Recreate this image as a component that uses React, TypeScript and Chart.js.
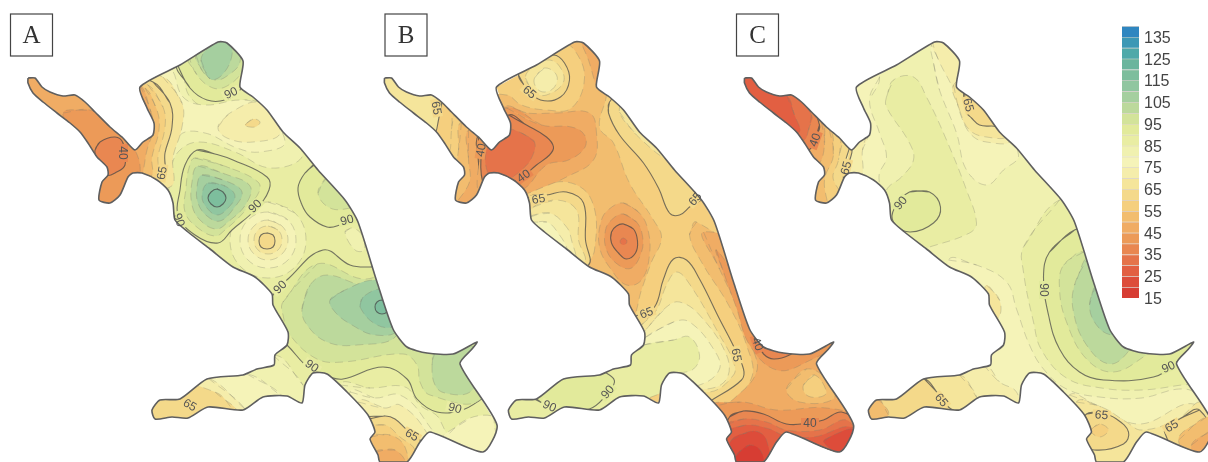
import React, { useEffect, useRef } from "react";
import { Chart, registerables } from "chart.js";

Chart.register(...registerables);

type Pt = [number, number];
type Band = [number, number, Pt[]]; // [legend class, solid contour?, contour]
type Lab = [string, number, number, number, number]; // text, x, y, angle, class behind

const legendClasses = [135,130,125,120,115,110,105,100,95,90,85,80,75,70,65,60,55,50,45,40,35,30,25,20,15];
const legendColors = ["#2f86c0","#3d98b5","#4fa9a9","#6ab59d","#7dbe9d","#90c6a0","#a5cf9f","#bcd99c","#d3e39a","#e2ea9b","#e9eda3","#f0f1b0","#f5f3b8","#f5edab","#f5e59b","#f4d98a","#f5cf7e","#f2bd6f","#f0ac64","#ec9a58","#e98751","#e5734a","#e25f42","#dd4c3a","#d73d33"];
const legendTicks = [135,125,115,105,95,85,75,65,55,45,35,25,15];
const panelLetters = ["A","B","C"];
const panelShift = [0, 356.5, 716.5];
const panelBase = [85, 55, 80];
const letterBoxLeft = [10.5, 385, 736.5];

const basin: Pt[] = [[28,78],[35,78],[42,87],[50,92],[63,96],[75,95],[85,102],[95,112],[110,127],[123,138],[135,150],[143,142],[153,135],[154,123],[147,108],[140,87],[180,65],[218,42],[227,43],[243,61],[240,87],[253,97],[267,110],[283,132],[300,148],[318,170],[345,200],[358,222],[377,282],[393,329],[407,347],[427,353],[453,354],[477,342],[472,349],[460,364],[497,425],[483,452],[430,432],[420,442],[407,462],[380,462],[378,455],[370,439],[375,432],[368,415],[347,392],[327,374],[313,373],[305,385],[302,403],[287,396],[263,397],[243,410],[208,407],[188,418],[172,417],[155,419],[152,410],[160,400],[180,399],[207,379],[243,375],[257,369],[274,365],[275,355],[287,345],[288,332],[273,305],[272,294],[255,277],[233,267],[210,249],[188,232],[175,220],[173,203],[168,190],[157,180],[142,173],[133,173],[128,177],[120,195],[110,203],[99,200],[102,182],[108,175],[107,167],[97,157],[88,143],[80,132],[70,123],[57,113],[43,102],[33,93],[28,83]];

const bandsA: Band[] = [
  [80,0,[[140,60],[178,64],[190,97],[215,110],[245,100],[262,105],[290,135],[302,157],[270,168],[235,152],[200,142],[180,150],[170,170],[165,195],[120,200],[100,100]]],
  [75,0,[[150,70],[170,68],[183,97],[205,105],[240,100],[258,105],[285,142],[260,152],[237,148],[205,133],[180,135],[170,165],[160,190],[120,200],[110,100]]],
  [70,0,[[218,127],[230,113],[260,103],[280,133],[253,142],[227,138]]],
  [60,0,[[245,125],[253,119],[260,122],[255,127]]],
  [80,0,[[268,202],[295,213],[306,240],[295,267],[268,278],[241,267],[230,240],[241,213]]],
  [75,0,[[268,212],[288,220],[296,240],[288,260],[268,268],[248,260],[240,240],[248,220]]],
  [70,0,[[268,220],[282,226],[288,240],[282,254],[268,260],[254,254],[248,240],[254,226]]],
  [65,0,[[268,226],[278,230],[282,240],[278,250],[268,254],[258,250],[254,240],[258,230]]],
  [60,1,[[267,233],[273,235],[275,241],[273,247],[267,249],[261,247],[259,241],[261,235]]],
  [90,1,[[197,150],[215,154],[233,160],[267,177],[269,190],[255,210],[232,230],[218,243],[195,235],[178,215],[180,190],[185,165]]],
  [95,0,[[195,158],[230,168],[258,182],[259,192],[244,212],[225,230],[215,236],[198,228],[185,212],[186,188],[189,168]]],
  [100,0,[[198,166],[225,174],[250,186],[246,204],[228,222],[216,229],[200,220],[192,205],[192,182]]],
  [105,0,[[202,175],[226,181],[242,192],[234,208],[220,221],[207,216],[198,203],[197,187]]],
  [110,0,[[208,183],[225,186],[235,196],[227,209],[217,215],[207,208],[202,196]]],
  [115,1,[[217,189],[223,192],[226,198],[223,204],[217,207],[211,204],[208,198],[211,192]]],
  [90,1,[[176,62],[190,88],[207,100],[225,100],[240,90],[250,60],[235,30],[200,35]]],
  [95,0,[[188,55],[197,75],[213,88],[227,86],[242,72],[250,50],[225,35]]],
  [100,0,[[196,55],[203,72],[215,80],[227,76],[240,62],[235,40],[215,42]]],
  [105,0,[[201,60],[210,79],[222,75],[232,55],[228,40],[212,45]]],
  [90,1,[[317,163],[305,173],[298,188],[302,205],[310,217],[327,227],[340,225],[365,215],[375,200],[345,160]]],
  [95,0,[[327,177],[318,193],[330,208],[350,208],[370,200],[350,170]]],
  [80,0,[[345,232],[352,228],[362,235],[364,250],[355,250]]],
  [90,1,[[260,320],[273,295],[288,279],[323,250],[350,265],[370,267],[397,265],[420,300],[480,340],[498,385],[480,400],[462,410],[437,412],[417,399],[407,379],[383,367],[343,379],[330,377],[310,369],[287,345]]],
  [95,0,[[283,302],[317,264],[363,279],[400,272],[498,340],[480,400],[430,395],[420,382],[417,365],[403,354],[343,362],[317,359],[290,335],[283,315]]],
  [100,0,[[302,309],[310,285],[327,275],[363,285],[385,280],[400,290],[397,335],[357,345],[327,342],[307,325]]],
  [100,0,[[435,352],[432,365],[435,385],[445,393],[470,392],[480,370],[470,345]]],
  [105,0,[[330,300],[345,290],[375,280],[395,290],[397,330],[375,335],[352,325],[335,312]]],
  [110,0,[[360,307],[363,297],[383,289],[400,300],[395,325],[377,325]]],
  [115,1,[[382,300],[387,302],[389,307],[387,312],[382,314],[377,312],[375,307],[377,302]]],
  [80,0,[[340,385],[370,388],[405,387],[420,405],[440,420],[450,470],[340,470]]],
  [75,0,[[350,392],[375,398],[400,395],[425,420],[450,470],[350,470]]],
  [70,0,[[358,402],[385,408],[400,405],[425,430],[440,470],[358,470]]],
  [75,0,[[440,442],[470,418],[498,420],[495,455],[470,460]]],
  [60,1,[[365,420],[385,416],[395,419],[407,430],[420,440],[420,470],[360,470]]],
  [55,0,[[365,428],[385,425],[400,437],[415,450],[415,470],[360,470]]],
  [50,0,[[370,437],[390,435],[405,447],[405,470],[370,470]]],
  [45,0,[[375,452],[395,450],[405,465],[375,470]]],
  [80,0,[[273,355],[303,385],[303,410],[148,430],[148,380]]],
  [75,0,[[247,374],[283,397],[283,420],[148,430],[148,370]]],
  [70,0,[[208,378],[245,409],[240,420],[148,430],[148,370]]],
  [60,0,[[215,392],[235,412],[148,430],[148,380]]],
  [65,0,[[163,77],[182,103],[182,127],[173,157],[170,187],[100,190],[100,70]]],
  [60,1,[[153,82],[170,103],[172,127],[165,153],[162,180],[100,190],[100,70]]],
  [55,0,[[148,85],[163,107],[165,127],[158,157],[157,178],[100,190],[100,70]]],
  [50,0,[[145,88],[157,110],[159,130],[152,157],[150,177],[100,190],[100,70]]],
  [45,0,[[140,85],[151,112],[153,130],[147,150],[143,172],[135,205],[90,210],[0,100],[20,60],[100,60]]],
  [40,0,[[63,113],[90,110],[115,125],[135,150],[140,175],[130,205],[90,210],[80,140]]],
  [35,1,[[95,150],[100,142],[115,137],[123,143],[125,165],[115,173],[107,175],[97,160]]],
];

const bandsB: Band[] = [
  [50,0,[[235,30],[250,90],[243,127],[257,143],[273,183],[297,220],[305,238],[295,262],[285,290],[275,320],[260,320],[225,280],[238,250],[235,200],[210,182],[170,190],[120,190],[120,100],[150,95],[165,105],[190,110],[215,108],[228,78],[218,50],[200,35]]],
  [45,0,[[225,40],[245,55],[252,70],[243,90],[232,60]]],
  [50,0,[[340,222],[333,235],[345,262],[372,305],[390,345],[395,378],[365,410],[345,420],[350,470],[500,470],[500,330],[420,280]]],
  [45,0,[[347,232],[363,269],[383,312],[395,345],[400,372],[377,399],[355,415],[350,470],[500,470],[500,330],[420,260]]],
  [40,0,[[360,250],[368,275],[380,308],[393,345],[420,370],[450,362],[480,340],[400,300]]],
  [35,1,[[402,344],[407,354],[417,359],[433,355],[445,345],[400,325]]],
  [50,0,[[430,389],[450,369],[473,382],[477,399],[443,402]]],
  [55,0,[[447,385],[458,375],[470,392],[463,397],[450,395]]],
  [40,0,[[350,408],[385,402],[420,410],[470,408],[500,420],[500,470],[345,470]]],
  [35,1,[[373,417],[387,411],[407,414],[430,424],[453,423],[467,420],[485,412],[500,425],[498,470],[355,470]]],
  [30,0,[[370,425],[387,419],[410,422],[430,430],[463,430],[490,420],[500,440],[498,470],[355,470]]],
  [25,0,[[370,432],[390,425],[413,429],[427,435],[457,437],[495,427],[500,450],[498,470],[355,470]]],
  [20,0,[[375,440],[397,431],[410,440],[410,470],[370,470]]],
  [20,0,[[467,442],[477,435],[497,430],[490,455]]],
  [15,0,[[380,455],[393,445],[405,452],[405,470],[380,470]]],
  [45,0,[[267,203],[282,212],[291,228],[293,255],[285,280],[270,285],[255,270],[243,247],[245,220],[254,208]]],
  [40,0,[[267,214],[280,222],[286,236],[285,252],[275,268],[262,265],[250,250],[249,230],[256,219]]],
  [35,1,[[267,224],[277,229],[281,241],[279,253],[270,259],[262,253],[255,243],[255,232],[260,226]]],
  [30,0,[[267,238],[270,240],[270,243],[267,245],[264,243],[264,240]]],
  [60,1,[[270,320],[282,315],[298,307],[307,279],[317,259],[330,260],[343,279],[363,319],[375,342],[387,369],[385,380],[357,399],[345,405],[300,385],[270,340]]],
  [65,0,[[285,325],[300,310],[310,285],[320,272],[333,284],[363,335],[377,362],[377,375],[353,392],[300,385],[275,340]]],
  [70,0,[[290,329],[310,307],[323,302],[343,315],[370,355],[370,379],[350,389],[300,385],[280,345]]],
  [75,0,[[288,338],[317,322],[333,322],[357,349],[363,369],[343,385],[300,390],[275,355]]],
  [85,0,[[287,345],[317,340],[333,337],[343,355],[337,369],[320,375],[300,395],[148,440],[148,390],[250,360]]],
  [90,1,[[175,395],[187,404],[198,412],[233,409],[250,395],[258,382],[253,375],[240,370],[190,375]]],
  [60,1,[[173,197],[190,195],[210,192],[227,203],[229,240],[232,265],[200,265],[160,225]]],
  [65,0,[[177,207],[200,200],[220,210],[222,240],[228,262],[200,265],[165,230]]],
  [70,0,[[173,217],[193,213],[210,227],[215,240],[218,262],[190,262],[165,232]]],
  [75,0,[[170,225],[190,222],[203,235],[211,250],[213,265],[190,260]]],
  [60,1,[[162,75],[169,87],[184,100],[204,97],[213,80],[208,63],[197,55],[170,62]]],
  [65,0,[[169,78],[177,92],[190,95],[207,82],[202,65],[190,60],[175,68]]],
  [70,0,[[178,78],[188,68],[200,75],[198,87],[188,92],[180,88]]],
  [60,1,[[253,102],[252,113],[263,135],[287,163],[302,188],[313,213],[323,215],[333,207],[347,195],[320,150],[270,90]]],
  [65,0,[[263,112],[280,135],[313,160],[310,140],[270,100]]],
  [55,0,[[95,105],[95,130],[88,155],[0,140],[10,50]]],
  [65,1,[[85,95],[82,120],[75,135],[0,120],[20,60],[70,70]]],
  [50,0,[[105,122],[102,150],[98,170],[80,215],[140,215],[140,130]]],
  [45,0,[[112,130],[112,160],[113,182],[95,215],[140,215],[140,135]]],
  [40,1,[[122,135],[122,163],[127,182],[150,185],[145,130]]],
  [45,0,[[147,107],[170,113],[200,113],[233,113],[240,133],[237,160],[210,177],[187,187],[165,195],[125,200],[128,140]]],
  [40,0,[[150,108],[185,125],[215,127],[228,135],[228,148],[212,160],[190,165],[165,190],[130,190],[130,140]]],
  [35,1,[[152,115],[170,125],[190,137],[197,147],[193,155],[180,165],[167,176],[157,182],[130,190],[128,140]]],
  [30,0,[[165,133],[178,142],[175,158],[165,170],[150,180],[135,180],[130,150],[150,130]]],
];

const bandsC: Band[] = [
  [75,0,[[163,77],[153,100],[163,133],[170,157],[163,173],[160,190],[100,190],[100,80],[150,60]]],
  [70,0,[[150,135],[146,150],[143,178],[100,190],[110,130]]],
  [85,0,[[170,97],[177,80],[197,77],[210,97],[230,140],[250,190],[260,223],[253,233],[213,247],[185,255],[160,230],[170,190],[185,177],[197,160],[193,143],[170,107]]],
  [90,1,[[193,192],[213,192],[224,207],[217,223],[193,232],[177,222],[178,208]]],
  [75,0,[[217,63],[223,90],[240,133],[250,170],[270,185],[287,170],[302,155],[280,110],[245,60],[225,45],[215,45]]],
  [70,0,[[215,40],[222,60],[237,90],[245,117],[255,135],[270,142],[293,140],[260,70],[240,40]]],
  [65,0,[[237,85],[243,110],[253,130],[270,137],[290,135],[265,75]]],
  [60,1,[[248,90],[250,112],[255,118],[263,125],[275,126],[290,125],[265,80]]],
  [85,0,[[343,200],[307,247],[307,272],[317,322],[325,350],[350,378],[385,388],[425,390],[465,385],[498,380],[480,320],[400,200]]],
  [90,1,[[358,230],[333,252],[327,277],[332,315],[343,349],[363,372],[387,380],[437,377],[460,362],[480,340],[420,300],[380,230]]],
  [95,0,[[367,252],[347,265],[343,289],[350,322],[370,359],[397,372],[430,355],[450,340],[400,280]]],
  [100,0,[[373,255],[358,285],[357,312],[370,345],[393,364],[413,350],[420,330],[390,270]]],
  [105,0,[[380,285],[373,305],[380,325],[395,335],[410,330],[395,290]]],
  [75,0,[[232,260],[260,265],[290,282],[300,309],[313,345],[327,369],[350,389],[383,397],[425,398],[463,389],[480,395],[498,440],[400,470],[300,420],[148,430],[148,370],[225,330]]],
  [65,0,[[270,285],[283,300],[282,318],[270,320],[268,300]]],
  [70,0,[[267,365],[283,382],[300,392],[300,410],[148,430],[148,370]]],
  [65,0,[[243,375],[260,397],[255,420],[148,430],[148,370]]],
  [60,1,[[207,378],[222,394],[232,407],[243,415],[148,430],[148,370]]],
  [50,0,[[160,397],[172,415],[148,430]]],
  [70,0,[[353,395],[380,405],[423,424],[477,404],[498,440],[400,470],[340,440]]],
  [65,0,[[360,402],[385,407],[410,422],[425,430],[460,420],[485,403],[498,460],[350,470]]],
  [60,1,[[370,414],[385,413],[400,419],[412,432],[407,444],[378,450],[355,440]]],
  [55,0,[[374,430],[383,424],[392,430],[383,437]]],
  [60,1,[[483,410],[463,419],[455,426],[448,432],[470,465],[498,450]]],
  [50,0,[[462,440],[490,417],[498,430],[490,470]]],
  [45,0,[[475,445],[497,430],[498,445],[485,465]]],
  [60,1,[[135,140],[127,180],[145,215],[85,215],[85,140],[110,120]]],
  [55,0,[[125,135],[122,160],[117,180],[140,215],[85,215],[85,140],[110,115]]],
  [50,0,[[113,130],[117,155],[108,180],[110,215],[85,215],[75,120]]],
  [45,0,[[105,122],[108,145],[100,165],[60,170],[60,100]]],
  [35,1,[[103,125],[98,140],[92,150],[60,150],[40,100],[60,80],[85,90]]],
  [30,0,[[95,115],[92,130],[87,140],[60,130],[20,90],[30,60],[70,80]]],
  [25,0,[[70,95],[78,115],[83,132],[60,125],[20,100],[20,60]]],
];

const labelsA: Lab[] = [["40",123,153,90,35],["65",162,173,-80,60],["90",179,220,70,90],["90",255,206,-45,90],["90",231,93,-25,85],["90",347,220,-15,90],["90",280,287,-45,85],["90",312,366,35,85],["90",455,408,15,85],["65",190,405,30,60],["65",412,435,30,60]];
const labelsB: Lab[] = [["65",80,108,80,60],["40",124.5,150,-80,40],["65",173,92,40,60],["40",167,176,-35,35],["65",182,199,-10,60],["65",338.5,199,-50,60],["40",401,344,70,35],["65",380,355,80,60],["65",290,313,-20,60],["90",251,392,-50,90],["90",193,406,25,85],["40",453.5,423,0,35]];
const labelsC: Lab[] = [["40",98.5,140,-70,35],["65",129.5,168,-75,60],["65",252,105,75,60],["90",184,203,-50,90],["90",327.5,290,90,90],["90",452,367,-25,90],["65",225,400,50,60],["65",385,415,5,60],["65",455,426,-30,60]];

const allBands = [bandsA, bandsB, bandsC];
const allLabels = [labelsA, labelsB, labelsC];

const colorOf = (v: number) => legendColors[legendClasses.indexOf(v)];
const toData = (pts: Pt[], dx: number) => pts.map(([x, y]) => ({ x: x + dx, y }));
const closeLoop = (pts: Pt[]) => [...pts, pts[0], pts[1]];

function buildDatasets() {
  const painted: any[] = [];
  const strokes: any[] = [];
  panelShift.forEach((dx, p) => {
    painted.push({
      data: toData(basin, dx), showLine: true, fill: "shape", tension: 0,
      backgroundColor: colorOf(panelBase[p]), borderWidth: 0, pointRadius: 0,
    });
    allBands[p].forEach(([cls, solid, pts]) => {
      painted.push({
        data: toData(closeLoop(pts), dx), showLine: true, fill: "shape", tension: 0.4,
        backgroundColor: colorOf(cls),
        borderColor: solid ? "rgba(70,70,70,0.72)" : "rgba(125,125,110,0.3)",
        borderWidth: solid ? 1.1 : 1,
        borderDash: solid ? [] : [8, 5],
        pointRadius: 0,
      });
    });
    strokes.push({
      outline: true, data: toData([...basin, basin[0]], dx), showLine: true, fill: false, tension: 0.22,
      borderColor: "#5f5f5f", borderWidth: 1.6, pointRadius: 0,
    });
  });
  // Chart.js paints the last dataset first
  return [...strokes, ...painted.reverse()];
}

const mapPlugin = {
  id: "mapPlugin",
  beforeDatasetsDraw(chart: any) {
    const { ctx } = chart;
    ctx.save();
    ctx.beginPath();
    chart.data.datasets.forEach((d: any, i: number) => {
      if (d.outline) {
        chart.getDatasetMeta(i).dataset.path(ctx);
        ctx.closePath();
      }
    });
    ctx.clip();
  },
  beforeDatasetDraw(chart: any, args: any) {
    if (chart.data.datasets[args.index].outline) return false;
  },
  afterDatasetsDraw(chart: any) {
    const { ctx, scales } = chart;
    // label gaps stay inside the basin; the digits may reach its edge
    panelShift.forEach((dx, p) => {
      allLabels[p].forEach(([, x, y, angle, bg]) => {
        ctx.save();
        ctx.translate(scales.x.getPixelForValue(x + dx), scales.y.getPixelForValue(y));
        ctx.rotate((angle * Math.PI) / 180);
        ctx.fillStyle = colorOf(bg);
        ctx.fillRect(-9, -5, 18, 10);
        ctx.restore();
      });
    });
    ctx.restore();
    chart.data.datasets.forEach((d: any, i: number) => {
      if (d.outline) chart.getDatasetMeta(i).dataset.draw(ctx, chart.chartArea);
    });
    panelShift.forEach((dx, p) => {
      allLabels[p].forEach(([text, x, y, angle]) => {
        ctx.save();
        ctx.translate(scales.x.getPixelForValue(x + dx), scales.y.getPixelForValue(y));
        ctx.rotate((angle * Math.PI) / 180);
        ctx.fillStyle = "#555";
        ctx.font = "12px 'Liberation Sans'";
        ctx.textAlign = "center";
        ctx.textBaseline = "middle";
        ctx.fillText(text, 0, 0.5);
        ctx.restore();
      });
      const bx = scales.x.getPixelForValue(letterBoxLeft[p]);
      const by = scales.y.getPixelForValue(14);
      ctx.save();
      ctx.fillStyle = "#fff";
      ctx.strokeStyle = "#444";
      ctx.lineWidth = 1.2;
      ctx.fillRect(bx, by, 42, 42);
      ctx.strokeRect(bx, by, 42, 42);
      ctx.fillStyle = "#333";
      ctx.font = "25px 'Liberation Serif'";
      ctx.textAlign = "center";
      ctx.textBaseline = "middle";
      ctx.fillText(panelLetters[p], bx + 21, by + 22);
      ctx.restore();
    });
  },
};

export default function App() {
  const mapRef = useRef<HTMLCanvasElement>(null);
  const keyRef = useRef<HTMLCanvasElement>(null);
  useEffect(() => {
    const map = new Chart(mapRef.current as HTMLCanvasElement, {
      type: "scatter",
      data: { datasets: buildDatasets() },
      plugins: [mapPlugin],
      options: {
        animation: false, responsive: false, events: [],
        layout: { padding: 0 },
        plugins: { legend: { display: false }, tooltip: { enabled: false } },
        scales: {
          x: { type: "linear", display: false, min: 0, max: 1208 },
          y: { type: "linear", display: false, min: 0, max: 462, reverse: true },
        },
      },
    } as any);
    const key = new Chart(keyRef.current as HTMLCanvasElement, {
      type: "bar",
      data: {
        labels: ["mm"],
        datasets: legendClasses.map((v, i) => ({
          data: [[v, v + 5]], backgroundColor: legendColors[i],
          borderColor: "rgba(110,80,60,0.25)", borderWidth: { top: 1 }, borderSkipped: false,
          barPercentage: 1, categoryPercentage: 1,
        })),
      },
      options: {
        animation: false, responsive: false, events: [],
        layout: { padding: { top: 26, bottom: 164 } },
        plugins: { legend: { display: false }, tooltip: { enabled: false } },
        scales: {
          x: { display: false, stacked: true },
          y: {
            position: "right", min: 15, max: 140,
            afterBuildTicks: (s: any) => { s.ticks = legendTicks.map((value) => ({ value })); },
            afterFit: (s: any) => { s.width = 69; },
            border: { display: false }, grid: { display: false, drawTicks: false },
            ticks: { color: "#444", padding: 5, labelOffset: 1.5, font: { family: "'Liberation Sans'", size: 16 }, autoSkip: false },
          },
        },
      },
    } as any);
    return () => { map.destroy(); key.destroy(); };
  }, []);
  return (
    <div style={{ position: "fixed", left: 0, top: 0, width: 1208, height: 462, background: "#fff", overflow: "hidden" }}>
      <canvas ref={mapRef} width={1208} height={462} style={{ position: "absolute", left: 0, top: 0, filter: "blur(0.5px)" }} />
      <canvas ref={keyRef} width={86} height={462} style={{ position: "absolute", left: 1122, top: 0, filter: "blur(0.5px)" }} />
    </div>
  );
}
